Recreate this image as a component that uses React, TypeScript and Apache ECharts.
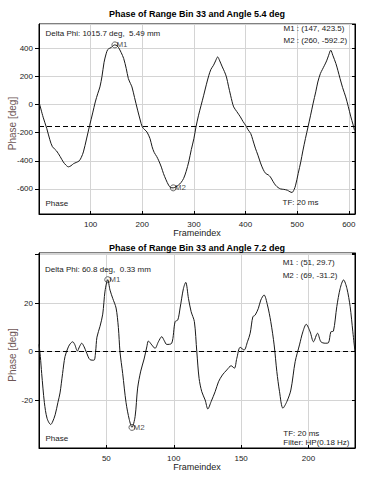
import React, { useEffect, useRef } from "react";
import * as echarts from "echarts";

const FONT = "Liberation Sans, Arial, sans-serif";

// ---- top chart data (Angle 5.4 deg) ----
const topFrames = [1, 8, 15, 21, 26, 34, 41, 47, 52, 57, 62, 67, 72, 78, 82, 86, 92, 98, 104, 109, 114, 118, 122, 126, 130, 133, 137, 140, 144, 147, 151, 154, 159, 164, 169, 173, 177, 180, 185, 191, 196, 200, 205, 209, 215, 219, 223, 228, 232, 237, 241, 246, 251, 255, 260, 265, 270, 275, 280, 285, 290, 295, 300, 304, 309, 314, 319, 324, 329, 333, 338, 342, 346, 350, 355, 359, 363, 367, 371, 374, 377, 383, 390, 395, 400, 405, 410, 414, 419, 424, 429, 434, 439, 444, 448, 453, 458, 463, 468, 474, 481, 486, 490, 494, 497, 502, 507, 511, 516, 521, 526, 531, 536, 540, 545, 549, 553, 557, 561, 565, 569, 575, 579, 583, 588, 594, 599, 604, 608, 611];
const topPhase = [5, -90, -170, -250, -300, -330, -370, -408, -430, -443, -435, -420, -412, -400, -375, -337, -245, -150, -60, 18, 80, 125, 200, 300, 360, 390, 400, 405, 420, 423.5, 418, 405, 370, 327, 255, 185, 150, 125, 50, -40, -110, -159, -180, -195, -242, -300, -340, -370, -400, -445, -490, -535, -573, -590, -592.2, -585, -573, -555, -526, -475, -407, -320, -242, -160, -76, -5, 66, 140, 208, 250, 279, 310, 338, 310, 267, 235, 196, 130, 66, 20, -17, -50, -88, -120, -147, -180, -206, -250, -310, -360, -415, -460, -490, -500, -514, -545, -573, -590, -600, -603, -609, -620, -625, -605, -573, -490, -407, -330, -242, -160, -76, 10, 90, 160, 220, 250, 279, 310, 350, 386, 350, 291, 240, 185, 120, 54, -15, -88, -140, -183];
const topMean = -153;
const topMarkerNames = ["M1", "M2"];
const topMarkerFrames = [147, 260];
const topMarkerValues = [423.5, -592.2];
const topTitle = "Phase of Range Bin 33 and Angle 5.4 deg";
const topDelta = "Delta Phi: 1015.7 deg,  5.49 mm";
const topXTicks = { min: 0, max: 612, step: 100 };
const topYTicks = { min: -778, max: 572, step: 200 };
const topYLabels = [-600, -400, -200, 0, 200, 400];

// ---- bottom chart data (Angle 7.2 deg) ----
const botFrames = [0, 1, 2, 4, 6, 8.7, 10, 12, 14, 15.6, 17.5, 19.3, 21.8, 23.5, 25, 26.5, 28.5, 30, 31.7, 33.5, 35, 37.9, 40.8, 42, 43, 45.3, 47.3, 49, 51, 52.7, 54.7, 57.2, 58.9, 60.1, 62.1, 64.6, 67, 69, 71.3, 73.2, 75.5, 78, 80, 81.2, 83.7, 86.1, 88.6, 91.1, 93, 94.8, 98.5, 101, 103, 104.7, 107.2, 108.9, 110.9, 112.9, 115.3, 117.1, 118.8, 120.8, 123.3, 125.3, 127.7, 130.7, 133.2, 136.1, 139.4, 142.6, 145, 146.8, 149.3, 152.2, 154.7, 156.7, 158.7, 160.4, 162.8, 164.6, 167, 169.5, 172, 174.5, 176.5, 178.5, 181, 183.9, 186.9, 190.1, 193.3, 195.8, 198.3, 201.2, 203.7, 206.7, 209.2, 212.4, 214.8, 216.6, 218.5, 221, 223.5, 226, 228.5, 230.9, 232.9, 234.5];
const botPhase = [3, -2, -9, -21, -27.5, -30, -29, -26, -21, -17, -9, -2, 2, 3.5, 4.1, 3, 0.3, 2, 3.5, 2, 0, -3.3, -3.5, 0, 6, 10.5, 15.5, 25, 29.7, 25.4, 22, 18, 10, 0, -9, -21, -28, -31.2, -26.8, -15, -8, -3, 2, 4.4, 2.8, 1.4, 4.1, 6.2, 4.5, 3, 3.5, 12.4, 13.1, 18, 26.1, 28.6, 22, 16.5, 12.4, 0, -11, -16.5, -19.9, -23.6, -20.6, -16.5, -12.4, -9.6, -7.5, -5.8, -6.8, -2.7, 1.8, 0.7, 4.1, 7.6, 14.4, 15.1, 17.9, 21.3, 23.4, 19.3, 12.4, 2.8, -8.2, -16.5, -23.3, -20.6, -15.8, -4.1, 2.8, 8.2, 11.3, 8.2, 4.1, 7.6, 4.1, 3.5, 3.7, 8.2, 8.5, 18.6, 26.1, 29.6, 26.1, 18.6, 8.2, 0];
const botMean = 0;
const botMarkerNames = ["M1", "M2"];
const botMarkerFrames = [51, 69];
const botMarkerValues = [29.7, -31.2];
const botTitle = "Phase of Range Bin 33 and Angle 7.2 deg";
const botDelta = "Delta Phi: 60.8 deg,  0.33 mm";
const botXTicks = { min: 0, max: 234.5, step: 50 };
const botYTicks = { min: -39.7, max: 40.7, step: 20 };
const botYLabels = [-20, 0, 20];

const tfText = "TF: 20 ms";
const filterText = "Filter: HP(0.18 Hz)";
const xName = "Frameindex";
const yName = "Phase [deg]";
const legendName = "Phase";

const GRID_LEFT = 39;
const GRID_W = 316;
const GRIDS = [
  { top: 24, height: 190 },
  { top: 253, height: 195 },
];

function txt(text: string, x: number, y: number, opts: any = {}) {
  return {
    type: "text",
    x,
    y,
    rotation: opts.rotation || 0,
    z: 100,
    style: {
      text,
      fill: opts.color || "#1a1a1a",
      fontSize: opts.size || 8,
      fontWeight: opts.bold ? "bold" : "normal",
      fontFamily: FONT,
      align: opts.align || "left",
      textAlign: opts.align || "left",
      verticalAlign: "middle",
      textVerticalAlign: "middle",
    },
  };
}

function markerLabel(names: string[], frames: number[], values: number[], i: number) {
  return `${names[i]} : (${frames[i]}, ${values[i]})`;
}

export default function App() {
  const ref = useRef<HTMLDivElement>(null);

  useEffect(() => {
    if (!ref.current) return;
    const chart = echarts.init(ref.current, null, { renderer: "svg" });

    const xAxisFor = (gi: number, t: { min: number; max: number; step: number }) => ({
      type: "value",
      gridIndex: gi,
      min: t.min,
      max: t.max,
      interval: t.step,
      axisLine: { show: true, onZero: false, lineStyle: { color: "#000", width: 1 } },
      axisTick: { show: true, inside: true, length: 3, lineStyle: { color: "#000" } },
      axisLabel: {
        show: true,
        fontSize: 8,
        color: "#222",
        fontFamily: FONT,
        margin: 6,
        showMinLabel: false,
        showMaxLabel: false,
      },
      splitLine: { show: true, lineStyle: { color: "#d4d4d4", width: 1 } },
    });

    const yAxisFor = (gi: number, t: { min: number; max: number; step: number }, labels: number[]) => ({
      type: "value",
      gridIndex: gi,
      min: t.min,
      max: t.max,
      minInterval: t.step,
      maxInterval: t.step,
      axisLine: { show: true, onZero: false, lineStyle: { color: "#000", width: 1 } },
      axisTick: { show: true, inside: false, length: 4, lineStyle: { color: "#000" } },
      axisLabel: {
        show: true,
        fontSize: 8,
        color: "#222",
        fontFamily: FONT,
        margin: 6,
        showMinLabel: false,
        showMaxLabel: false,
        formatter: (v: number) => (labels.indexOf(v) >= 0 ? String(v) : ""),
      },
      splitLine: { show: true, lineStyle: { color: "#d4d4d4", width: 1 } },
    });

    const yRightFor = (gi: number, t: { min: number; max: number; step: number }) => ({
      type: "value",
      gridIndex: gi,
      position: "right",
      min: t.min,
      max: t.max,
      minInterval: t.step,
      maxInterval: t.step,
      axisLine: { show: true, onZero: false, lineStyle: { color: "#000", width: 1 } },
      axisTick: { show: true, inside: true, length: 3, lineStyle: { color: "#000" } },
      axisLabel: { show: false },
      splitLine: { show: false },
    });

    const lineSeries = (xi: number, yi: number, frames: number[], vals: number[], mean: number) => ({
      type: "line",
      name: legendName,
      xAxisIndex: xi,
      yAxisIndex: yi,
      data: frames.map((f, i) => [f, vals[i]]),
      symbol: "none",
      smooth: 0.3,
      lineStyle: { color: "#1a1a1a", width: 1 },
      silent: true,
      markLine: {
        silent: true,
        symbol: "none",
        label: { show: false },
        lineStyle: { type: [5, 3], color: "#000", width: 1 },
        data: [{ yAxis: mean }],
      },
    });

    const markerSeries = (xi: number, yi: number, names: string[], frames: number[], vals: number[]) => ({
      type: "scatter",
      xAxisIndex: xi,
      yAxisIndex: yi,
      symbol: "circle",
      symbolSize: 6,
      silent: true,
      itemStyle: { color: "rgba(0,0,0,0)", borderColor: "#444", borderWidth: 1 },
      label: {
        show: true,
        position: "right",
        distance: -2,
        formatter: "{b}",
        fontSize: 8,
        color: "#1a1a1a",
        fontFamily: FONT,
      },
      data: names.map((n, i) => ({ name: n, value: [frames[i], vals[i]] })),
    });

    const cx = GRID_LEFT + GRID_W / 2;
    const yColor = "#6e5656";

    chart.setOption({
      animation: false,
      backgroundColor: "#fff",
      grid: GRIDS.map((g) => ({
        left: GRID_LEFT,
        top: g.top,
        width: GRID_W,
        height: g.height,
        show: true,
        borderColor: "#000",
        borderWidth: 1,
        backgroundColor: "rgba(0,0,0,0)",
      })),
      xAxis: [xAxisFor(0, topXTicks), xAxisFor(1, botXTicks)],
      yAxis: [
        yAxisFor(0, topYTicks, topYLabels),
        yRightFor(0, topYTicks),
        yAxisFor(1, botYTicks, botYLabels),
        yRightFor(1, botYTicks),
      ],
      series: [
        lineSeries(0, 0, topFrames, topPhase, topMean),
        markerSeries(0, 0, topMarkerNames, topMarkerFrames, topMarkerValues),
        lineSeries(1, 2, botFrames, botPhase, botMean),
        markerSeries(1, 2, botMarkerNames, botMarkerFrames, botMarkerValues),
      ],
      graphic: [
        txt(topTitle, cx, 14, { bold: true, size: 9, align: "center", color: "#000" }),
        txt(topDelta, 45.5, 33.7),
        txt(markerLabel(topMarkerNames, topMarkerFrames, topMarkerValues, 0), 283.5, 28.3),
        txt(markerLabel(topMarkerNames, topMarkerFrames, topMarkerValues, 1), 283.5, 40.3),
        txt(legendName, 45.5, 203.7),
        txt(tfText, 282.5, 202.7),
        txt(xName, cx, 233.3, { size: 9, align: "center" }),
        txt(yName, 12, 123.5, { size: 10, align: "center", rotation: Math.PI / 2, color: yColor }),

        txt(botTitle, cx, 248, { bold: true, size: 9, align: "center", color: "#000" }),
        txt(botDelta, 45, 269),
        txt(markerLabel(botMarkerNames, botMarkerFrames, botMarkerValues, 0), 282.7, 262.3),
        txt(markerLabel(botMarkerNames, botMarkerFrames, botMarkerValues, 1), 282.7, 275.7),
        txt(legendName, 45.5, 438),
        txt(tfText, 283.3, 433),
        txt(filterText, 283.3, 442),
        txt(xName, cx, 467.3, { size: 9, align: "center" }),
        txt(yName, 12, 355, { size: 10, align: "center", rotation: Math.PI / 2, color: yColor }),
      ],
    });

    return () => chart.dispose();
  }, []);

  return (
    <div
      ref={ref}
      style={{ position: "absolute", left: 0, top: 0, width: 380, height: 480, background: "#fff" }}
    />
  );
}
